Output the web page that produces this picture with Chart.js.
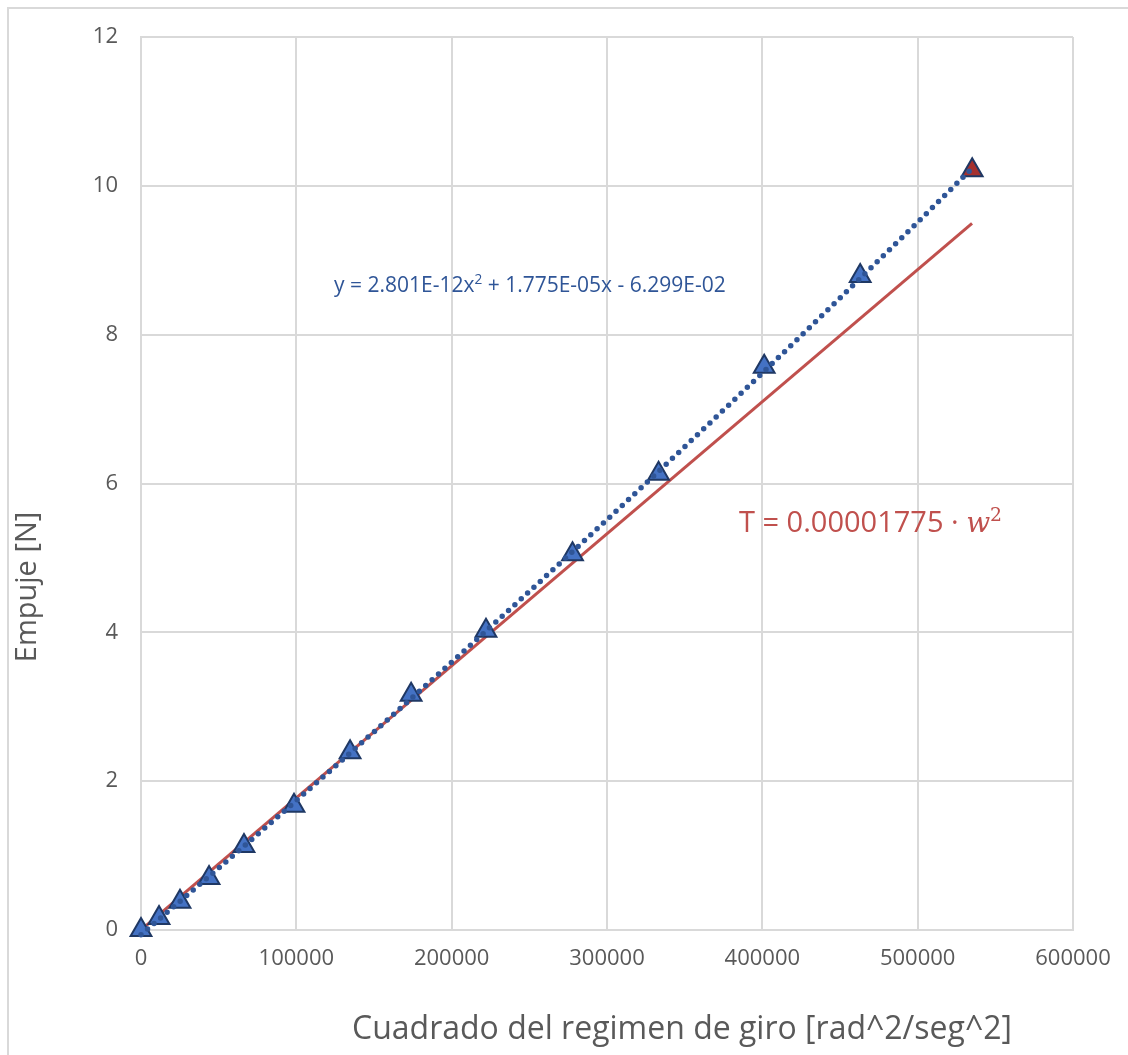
<!DOCTYPE html>
<html>
<head>
<meta charset="utf-8">
<script src="https://cdn.jsdelivr.net/npm/chart.js@4.4.1/dist/chart.umd.min.js"></script>
<style>
  html, body { margin: 0; padding: 0; background: #fff; }
  #wrap { width: 1128px; height: 1055px; position: relative; }
</style>
</head>
<body>
<div id="wrap"><canvas id="grafico"></canvas></div>
<script>
// Mediciones: cuadrado del regimen de giro vs empuje
const omega2 = [0, 11600, 25100, 43800, 66300, 98500, 134600, 173900, 222100, 277800, 333200, 401200, 463000, 535100];
const empuje = [0, 0.16, 0.38, 0.70, 1.13, 1.67, 2.39, 3.16, 4.02, 5.05, 6.13, 7.57, 8.79, 10.21];

// Linea de tendencia polinomica (valores de y = 2.801E-12x^2 + 1.775E-05x - 6.299E-02)
const tendX = [0, 50000, 100000, 150000, 200000, 250000, 300000, 350000, 400000, 450000, 500000, 535000];
const tendY = [-0.063, 0.832, 1.740, 2.663, 3.599, 4.550, 5.514, 6.493, 7.485, 8.492, 9.512, 10.235];

// Modelo lineal T = 0.00001775 * w^2
const modeloX = [0, 535000];
const modeloY = [0, 9.496];

// Ejes
const ticksX = [0, 100000, 200000, 300000, 400000, 500000, 600000];
const ticksY = [0, 2, 4, 6, 8, 10, 12];

const gris = '#D9D9D9';
const textoGris = '#595959';
const fuente = '"Open Sans", "DejaVu Sans", sans-serif';

function puntos(xs, ys) {
  return xs.map((x, i) => ({ x: x, y: ys[i] }));
}

// Texto con superindices: partes [texto, sup]
function textoSup(ctx, partes, x, y, tam, color, fam) {
  ctx.fillStyle = color;
  ctx.textBaseline = 'alphabetic';
  ctx.textAlign = 'left';
  partes.forEach(p => {
    const t = p.sup ? tam * 0.65 : (p.tam || tam);
    ctx.font = (p.italic ? 'italic ' : '') + t + 'px ' + (p.fam || fam);
    const dy = p.sup ? -tam * 0.38 : 0;
    ctx.fillText(p.t, x, y + dy);
    x += ctx.measureText(p.t).width;
  });
}

const decoracion = {
  id: 'decoracion',
  beforeDraw(chart) {
    const ctx = chart.ctx;
    ctx.save();
    ctx.fillStyle = '#fff';
    ctx.fillRect(0, 0, chart.width, chart.height);
    ctx.strokeStyle = gris;
    ctx.lineWidth = 2;
    ctx.strokeRect(8, 8, chart.width + 20, chart.height + 20);
    ctx.restore();
  },
  afterDraw(chart) {
    const ctx = chart.ctx;
    ctx.save();
    // titulos de ejes
    ctx.fillStyle = textoGris;
    ctx.textAlign = 'center';
    ctx.textBaseline = 'middle';
    ctx.font = '32px ' + fuente;
    ctx.fillText('Cuadrado del regimen de giro [rad^2/seg^2]', 682, 1030);
    ctx.font = '29px ' + fuente;
    ctx.translate(28, 587);
    ctx.rotate(-Math.PI / 2);
    ctx.fillText('Empuje [N]', 0, 0);
    ctx.restore();

    ctx.save();
    textoSup(ctx, [
      { t: 'y = 2.801E-12x' }, { t: '2', sup: true },
      { t: ' + 1.775E-05x - 6.299E-02' }
    ], 334, 292, 21, '#2F5597', fuente);
    textoSup(ctx, [
      { t: 'T = 0.00001775 · ' },
      { t: 'w', italic: true, fam: '"DejaVu Serif", serif', tam: 28 },
      { t: '2', sup: true, fam: '"DejaVu Serif", serif' }
    ], 739, 532, 29, '#C0504D', fuente);
    ctx.restore();
  }
};

const colorPuntos = omega2.map((v, i) => i === omega2.length - 1 ? '#A5302E' : '#4472C4');

new Chart(document.getElementById('grafico'), {
  type: 'scatter',
  data: {
    datasets: [
      {
        label: 'Tendencia',
        data: puntos(tendX, tendY),
        showLine: true,
        borderColor: '#2F5597',
        borderWidth: 5.5,
        borderDash: [0, 8.6],
        borderCapStyle: 'round',
        cubicInterpolationMode: 'monotone',
        pointRadius: 0,
        clip: false,
        order: 0
      },
      {
        label: 'Empuje',
        data: puntos(omega2, empuje),
        pointStyle: 'triangle',
        pointRadius: 12,
        pointHoverRadius: 12,
        pointBackgroundColor: colorPuntos,
        pointBorderColor: '#1F3864',
        pointBorderWidth: 2,
        clip: false,
        order: 1
      },
      {
        label: 'Modelo',
        data: puntos(modeloX, modeloY),
        showLine: true,
        borderColor: '#C0504D',
        borderWidth: 3,
        pointRadius: 0,
        order: 2
      }
    ]
  },
  options: {
    responsive: true,
    maintainAspectRatio: false,
    animation: false,
    layout: { padding: { top: 37, right: 55, left: 0, bottom: 0 } },
    plugins: { legend: { display: false }, tooltip: { enabled: false } },
    scales: {
      x: {
        type: 'linear',
        min: 0, max: 600000,
        afterFit: s => { s.height = 125; },
        afterBuildTicks: s => { s.ticks = ticksX.map(v => ({ value: v })); },
        ticks: { color: textoGris, font: { size: 22, family: fuente }, padding: 16, maxRotation: 0, callback: v => String(v) },
        grid: { color: gris, lineWidth: 2, drawTicks: false },
        border: { color: gris, width: 2 }
      },
      y: {
        min: 0, max: 12,
        afterFit: s => { s.width = 141; },
        afterBuildTicks: s => { s.ticks = ticksY.map(v => ({ value: v })); },
        ticks: { color: textoGris, font: { size: 22, family: fuente }, padding: 23, callback: v => String(v) },
        grid: { color: gris, lineWidth: 2, drawTicks: false },
        border: { color: gris, width: 2 }
      }
    }
  },
  plugins: [decoracion]
});
</script>
</body>
</html>
